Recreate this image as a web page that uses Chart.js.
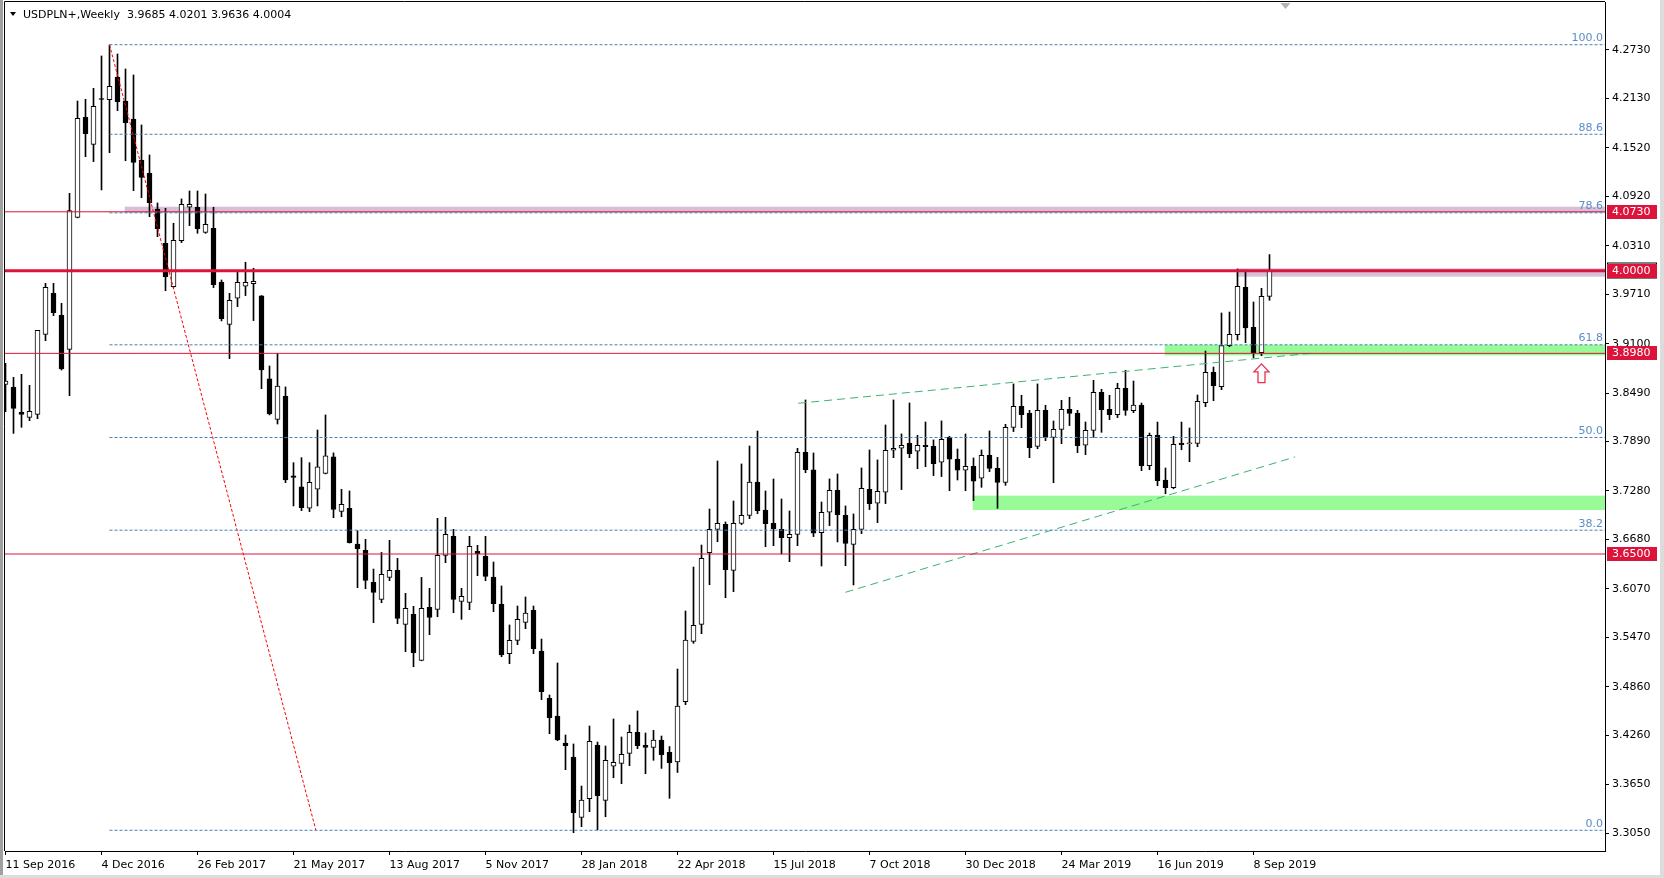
<!DOCTYPE html>
<html>
<head>
<meta charset="utf-8">
<title>USDPLN+, Weekly</title>
<script src="https://cdn.jsdelivr.net/npm/chart.js@4.4.1/dist/chart.umd.min.js"></script>
<style>
  html, body { margin: 0; padding: 0; background: #fff; }
  #wrap { width: 1664px; height: 878px; }
</style>
</head>
<body>
<div id="wrap"><canvas id="chart" width="1664" height="878"></canvas></div>
<script>
// weekly candles from 11 Sep 2016 (index 0) to 22 Sep 2019 (index 158)
const opens = [
  3.8597, 3.8560, 3.8251, 3.8189, 3.8226, 3.9215, 3.9722, 3.9450, 3.9030, 4.0661,
  4.1897, 4.1564, 4.2122, 4.2116, 4.2396, 4.2099, 4.1877, 4.1370, 4.1205, 4.0764,
  4.0340, 3.9805, 4.0374, 4.0786, 4.0786, 4.0476, 4.0526, 3.9858, 3.9339, 3.9661,
  3.9809, 3.9842, 3.9690, 3.8664, 3.8165, 3.8453, 3.7465, 3.7329, 3.7065, 3.7300,
  3.7497, 3.7700, 3.7027, 3.7064, 3.6624, 3.6545, 3.6150, 3.5940, 3.6211, 3.6298,
  3.5631, 3.5754, 3.5185, 3.5841, 3.5816, 3.6483, 3.6718, 3.5915, 3.5902, 3.6533,
  3.6471, 3.6216, 3.5882, 3.5268, 3.5433, 3.5655, 3.5804, 3.5301, 3.4716, 3.4498,
  3.4164, 3.3991, 3.3245, 3.3476, 3.4139, 3.3455, 3.3876, 3.3913, 3.4036, 3.4296,
  3.4135, 3.4110, 3.4200, 3.4050, 3.3930, 3.4675, 3.5420, 3.5631, 3.6517, 3.6805,
  3.6867, 3.6298, 3.6879, 3.6978, 3.7390, 3.7044, 3.6879, 3.6805, 3.6702, 3.6743,
  3.7757, 3.7539, 3.6764, 3.7016, 3.7288, 3.6979, 3.6620, 3.6805, 3.7300, 3.7127,
  3.7263, 3.7782, 3.7807, 3.7869, 3.7770, 3.7844, 3.7831, 3.7634, 3.7943, 3.7671,
  3.7535, 3.7584, 3.7436, 3.7720, 3.7559, 3.7386, 3.8066, 3.8326, 3.8243, 3.7831,
  3.8276, 3.7942, 3.8041, 3.8289, 3.8243, 3.7844, 3.8029, 3.8499, 3.8289, 3.8223,
  3.8548, 3.8271, 3.8341, 3.7592, 3.7966, 3.7414, 3.7320, 3.7872, 3.7863, 3.7868,
  3.8370, 3.8745, 3.8568, 3.9075, 3.9211, 3.9796, 3.9301, 3.8988, 3.9685
];
const highs = [
  3.8857, 3.8684, 3.8721, 3.8585, 3.9265, 3.9846, 3.9846, 3.9598, 4.0958, 4.2099,
  4.2120, 4.2256, 4.2656, 4.2790, 4.2680, 4.2495, 4.2421, 4.1803, 4.1432, 4.0839,
  4.0773, 4.0588, 4.0889, 4.0987, 4.0987, 4.0950, 4.0786, 3.9887, 3.9722, 3.9990,
  4.0106, 4.0032, 3.9695, 3.8824, 3.8981, 3.8565, 3.7629, 3.7691, 3.7629, 3.8033,
  3.8219, 3.7750, 3.7300, 3.7279, 3.6788, 3.6681, 3.6314, 3.6520, 3.6669, 3.6446,
  3.6014, 3.5853, 3.6211, 3.6076, 3.6941, 3.6953, 3.6805, 3.6076, 3.6718, 3.6607,
  3.6718, 3.6401, 3.6105, 3.5623, 3.5857, 3.5969, 3.5857, 3.5449, 3.4757, 3.5153,
  3.4263, 3.4152, 3.3632, 3.4374, 3.4176, 3.4127, 3.4461, 3.4238, 3.4386, 3.4560,
  3.4288, 3.4320, 3.4250, 3.4120, 3.5078, 3.5795, 3.6339, 3.6611, 3.7056, 3.7650,
  3.6896, 3.7155, 3.7613, 3.7835, 3.8020, 3.7279, 3.7427, 3.7180, 3.7032, 3.7806,
  3.8404, 3.7749, 3.7143, 3.7428, 3.7489, 3.7094, 3.6995, 3.7564, 3.7786, 3.7663,
  3.8095, 3.8404, 3.7984, 3.8367, 3.7967, 3.8132, 3.7910, 3.8145, 3.7955, 3.7798,
  3.7984, 3.7687, 3.7786, 3.8021, 3.7695, 3.8103, 3.8602, 3.8462, 3.8276, 3.8602,
  3.8338, 3.8144, 3.8400, 3.8437, 3.8276, 3.8132, 3.8647, 3.8536, 3.8462, 3.8610,
  3.8771, 3.8638, 3.8366, 3.7995, 3.8131, 3.7563, 3.7954, 3.8131, 3.8057, 3.8465,
  3.9009, 3.8811, 3.9479, 3.9491, 4.0023, 4.0010, 3.9615, 3.9784, 4.0201
];
const lows = [
  3.8259, 3.7991, 3.8066, 3.8148, 3.8173, 3.9137, 3.9446, 3.8774, 3.8457, 4.0655,
  4.1411, 4.1350, 4.1000, 4.1461, 4.1980, 4.1362, 4.0991, 4.0905, 4.0670, 4.0422,
  3.9755, 3.9797, 4.0349, 4.0559, 4.0464, 4.0464, 3.9793, 3.9381, 3.8915, 3.9558,
  3.9694, 3.9385, 3.8544, 3.8219, 3.8107, 3.7382, 3.7094, 3.7036, 3.7024, 3.7094,
  3.7490, 3.6949, 3.6961, 3.6635, 3.6084, 3.6071, 3.5651, 3.5898, 3.6170, 3.5639,
  3.5293, 3.5107, 3.5180, 3.5503, 3.5725, 3.6393, 3.5775, 3.5692, 3.5812, 3.6232,
  3.6170, 3.5787, 3.5231, 3.5145, 3.5379, 3.5577, 3.5268, 3.4700, 3.4279, 3.4193,
  3.3834, 3.3056, 3.3130, 3.3315, 3.3089, 3.3253, 3.3735, 3.3661, 3.3884, 3.4094,
  3.3785, 3.3950, 3.3850, 3.3480, 3.3800, 3.4638, 3.5396, 3.5515, 3.6121, 3.6652,
  3.5960, 3.6034, 3.6863, 3.6937, 3.6999, 3.6591, 3.6603, 3.6500, 3.6405, 3.6603,
  3.7505, 3.6715, 3.6352, 3.6851, 3.6649, 3.6356, 3.6117, 3.6752, 3.7049, 3.6888,
  3.7123, 3.7691, 3.7296, 3.7691, 3.7555, 3.7580, 3.7469, 3.7457, 3.7283, 3.7415,
  3.7283, 3.7160, 3.7324, 3.7518, 3.7065, 3.7349, 3.8013, 3.8062, 3.7691, 3.7802,
  3.7901, 3.7382, 3.7864, 3.8087, 3.7753, 3.7728, 3.7942, 3.8004, 3.8161, 3.8186,
  3.8214, 3.8247, 3.7530, 3.7542, 3.7344, 3.7245, 3.7307, 3.7789, 3.7641, 3.7826,
  3.8321, 3.8395, 3.8531, 3.9062, 3.9145, 3.9112, 3.8927, 3.8951, 3.9636
];
const closes = [
  3.8638, 3.8300, 3.8226, 3.8264, 3.9265, 3.9796, 3.9483, 3.8787, 4.0744, 4.1885,
  4.1696, 4.2033, 4.2118, 4.2281, 4.2091, 4.1832, 4.1341, 4.1156, 4.0843, 4.0521,
  3.9928, 4.0378, 4.0823, 4.0823, 4.0522, 4.0575, 3.9830, 3.9409, 3.9636, 3.9858,
  3.9858, 3.9871, 3.8775, 3.8231, 3.8577, 3.7415, 3.7448, 3.7073, 3.7386, 3.7576,
  3.7712, 3.7052, 3.7114, 3.6640, 3.6566, 3.6174, 3.6026, 3.6249, 3.6298, 3.5705,
  3.5828, 3.5280, 3.5828, 3.5717, 3.6483, 3.6743, 3.5940, 3.5977, 3.6595, 3.6504,
  3.6224, 3.5886, 3.5252, 3.5433, 3.5693, 3.5771, 3.5330, 3.4799, 3.4477, 3.4201,
  3.4131, 3.3303, 3.3459, 3.4185, 3.3513, 3.3950, 3.3925, 3.4024, 3.4296, 3.4131,
  3.4110, 3.4200, 3.4020, 3.3920, 3.4620, 3.5437, 3.5618, 3.6446, 3.6805, 3.6879,
  3.6306, 3.6879, 3.6978, 3.7390, 3.7036, 3.6875, 3.6813, 3.6702, 3.6743, 3.7757,
  3.7542, 3.6756, 3.7016, 3.7288, 3.6987, 3.6632, 3.6805, 3.7312, 3.7123, 3.7275,
  3.7782, 3.7807, 3.7844, 3.7741, 3.7844, 3.7827, 3.7617, 3.7918, 3.7671, 3.7535,
  3.7584, 3.7399, 3.7720, 3.7559, 3.7386, 3.8066, 3.8326, 3.8223, 3.7815, 3.8276,
  3.7942, 3.8041, 3.8289, 3.8239, 3.7839, 3.8029, 3.8499, 3.8284, 3.8223, 3.8548,
  3.8276, 3.8341, 3.7592, 3.7966, 3.7406, 3.7320, 3.7855, 3.7851, 3.7868, 3.8387,
  3.8745, 3.8580, 3.9075, 3.9215, 3.9808, 3.9293, 3.8988, 3.9685, 4.0004
];

const xTicks = [0, 12, 24, 36, 48, 60, 72, 84, 96, 108, 120, 132, 144, 156];
const dateLabels = ['11 Sep 2016', '4 Dec 2016', '26 Feb 2017', '21 May 2017', '13 Aug 2017',
  '5 Nov 2017', '28 Jan 2018', '22 Apr 2018', '15 Jul 2018', '7 Oct 2018', '30 Dec 2018',
  '24 Mar 2019', '16 Jun 2019', '8 Sep 2019'];
const priceTicks = [4.2730, 4.2130, 4.1520, 4.0920, 4.0310, 3.9710, 3.9100, 3.8490, 3.7890,
  3.7280, 3.6680, 3.6070, 3.5470, 3.4860, 3.4260, 3.3650, 3.3050];

// horizontal levels (red) and the key level drawn thicker
const redLevels = [4.0730, 4.0000, 3.8980, 3.6500];
const keyLevel = 4.0000;
const bidPrice = 4.0004;

// fibonacci retracement from the Dec 2016 high to the Feb 2018 low
const fibLevels = [0, 38.2, 50, 61.8, 78.6, 88.6, 100];
const fibHigh = 4.2795, fibLow = 3.3085;
const fibStart = 13, fibEnd = 38.8;

// trend lines (bar index / price)
const upperTrendX = [99.1, 163.5], upperTrendY = [3.8363, 3.8984];
const lowerTrendX = [105.0, 161.2], lowerTrendY = [3.6027, 3.7700];

// zones: start bar, low, high (they run to the right edge)
const zoneFrom = [14.9, 153.9, 144.9, 120.9];
const zoneLow = [4.0719, 3.9928, 3.8955, 3.7044];
const zoneHigh = [4.0793, 4.0031, 3.9085, 3.7221];
const zoneColors = ['#d8bfd8', '#d8bfd8', '#98fb98', '#98fb98'];

const arrowBar = 157, arrowTop = 3.8850, arrowBottom = 3.8618;
const shiftBar = 160;

const X_MIN = -0.0625, X_MAX = 199.9375;
const Y_MIN = 3.2829, Y_MAX = 4.3323;
const CRIMSON = '#dc143c';
const FIB_BLUE = '#4682b4';

Chart.defaults.font.family = '"DejaVu Sans", Tahoma, sans-serif';
Chart.defaults.font.size = 11;
Chart.defaults.color = '#000';

const idx = opens.map((_, i) => i);
const wickData = idx.map(i => ({ x: i, y: [lows[i], highs[i]] }));
const bodyData = idx.map(i => ({ x: i, y: [opens[i], closes[i]] }));
const bodyFill = idx.map(i => closes[i] >= opens[i] ? '#ffffff' : '#000000');

function segment(x1, y1, x2, y2, color, width, dash) {
    return {
        type: 'line',
        data: [{ x: x1, y: y1 }, { x: x2, y: y2 }],
        borderColor: color,
        borderWidth: width,
        borderDash: dash || [],
        pointRadius: 0,
        fill: false,
        order: 0
    };
}

const fibPrice = l => fibLow + (fibHigh - fibLow) * l / 100;

const lineSets = [];
fibLevels.forEach(l => lineSets.push(segment(fibStart, fibPrice(l), X_MAX, fibPrice(l), FIB_BLUE, 1, [3, 2])));
redLevels.forEach(v => lineSets.push(segment(X_MIN, v, X_MAX, v, CRIMSON, v === keyLevel ? 3 : 1)));
lineSets.push(segment(fibStart, fibHigh, fibEnd, fibLow, '#ff0000', 1, [3, 2]));
lineSets.push(segment(upperTrendX[0], upperTrendY[0], upperTrendX[1], upperTrendY[1], '#3cb371', 1, [8, 5]));
lineSets.push(segment(lowerTrendX[0], lowerTrendY[0], lowerTrendX[1], lowerTrendY[1], '#3cb371', 1, [8, 5]));

const decor = {
    id: 'decor',
    beforeDraw(chart) {
        const { ctx, width, height } = chart;
        ctx.save();
        ctx.fillStyle = '#ffffff';
        ctx.fillRect(0, 0, width, height);
        ctx.fillStyle = '#a0a0a0';
        ctx.fillRect(0, 0, 3, height);
        ctx.fillStyle = '#dcdcdc';
        ctx.fillRect(width - 4, 0, 4, height);
        ctx.fillRect(0, height - 3, width, 3);
        ctx.restore();
    },
    beforeDatasetsDraw(chart) {
        const { ctx, chartArea: a, scales: { x, y } } = chart;
        ctx.save();
        ctx.beginPath();
        ctx.rect(a.left, a.top, a.right - a.left, a.bottom - a.top);
        ctx.clip();
        zoneFrom.forEach((f, i) => {
            const left = x.getPixelForValue(f);
            const top = y.getPixelForValue(zoneHigh[i]);
            const bottom = y.getPixelForValue(zoneLow[i]);
            ctx.fillStyle = zoneColors[i];
            ctx.fillRect(left, top, a.right - left, bottom - top);
        });
        ctx.restore();
    },
    afterDatasetsDraw(chart) {
        const { ctx, chartArea: a, scales: { x, y } } = chart;
        ctx.save();
        // fib labels
        ctx.font = '11px "DejaVu Sans", Tahoma, sans-serif';
        ctx.fillStyle = '#5b8cc8';
        ctx.textAlign = 'right';
        ctx.textBaseline = 'bottom';
        fibLevels.forEach(l => {
            ctx.fillText(l.toFixed(1), a.right - 2, y.getPixelForValue(fibPrice(l)) - 1);
        });
        // hollow up arrow
        const cx = x.getPixelForValue(arrowBar);
        const top = y.getPixelForValue(arrowTop);
        const bottom = y.getPixelForValue(arrowBottom);
        ctx.beginPath();
        ctx.moveTo(cx, top);
        ctx.lineTo(cx + 7.5, top + 8);
        ctx.lineTo(cx + 3.5, top + 8);
        ctx.lineTo(cx + 3.5, bottom);
        ctx.lineTo(cx - 3.5, bottom);
        ctx.lineTo(cx - 3.5, top + 8);
        ctx.lineTo(cx - 7.5, top + 8);
        ctx.closePath();
        ctx.fillStyle = '#ffffff';
        ctx.fill();
        ctx.strokeStyle = '#e8304a';
        ctx.lineWidth = 1.3;
        ctx.stroke();
        // chart shift marker
        const sx = x.getPixelForValue(shiftBar);
        ctx.beginPath();
        ctx.moveTo(sx - 5, a.top + 1);
        ctx.lineTo(sx + 5, a.top + 1);
        ctx.lineTo(sx, a.top + 7);
        ctx.closePath();
        ctx.fillStyle = '#b4b4b4';
        ctx.fill();
        ctx.restore();
    },
    afterDraw(chart) {
        const { ctx, chartArea: a, scales: { y } } = chart;
        ctx.save();
        ctx.strokeStyle = '#000';
        ctx.lineWidth = 1;
        ctx.beginPath();
        ctx.moveTo(a.left - 0.5, a.bottom);
        ctx.lineTo(a.left - 0.5, a.top - 0.5);
        ctx.lineTo(a.right, a.top - 0.5);
        ctx.stroke();

        // header
        ctx.fillStyle = '#000';
        ctx.beginPath();
        ctx.moveTo(10, 12);
        ctx.lineTo(16, 12);
        ctx.lineTo(13, 16);
        ctx.closePath();
        ctx.fill();
        ctx.font = '11px "DejaVu Sans", Tahoma, sans-serif';
        ctx.textAlign = 'left';
        ctx.textBaseline = 'middle';
        ctx.fillText('USDPLN+,Weekly  ' + opens[opens.length - 1].toFixed(4) + ' ' +
            highs[highs.length - 1].toFixed(4) + ' ' + lows[lows.length - 1].toFixed(4) + ' ' +
            closes[closes.length - 1].toFixed(4), 23, 15);

        // price labels on the axis
        const yb = y.getPixelForValue(bidPrice);
        ctx.fillStyle = '#fff';
        ctx.fillRect(a.right + 2, yb - 8, 50, 15);
        ctx.strokeRect(a.right + 2.5, yb - 7.5, 49, 15);
        redLevels.forEach(v => {
            const yy = Math.round(y.getPixelForValue(v));
            ctx.fillStyle = CRIMSON;
            ctx.fillRect(a.right + 2, yy - 7, 50, 14);
            ctx.fillStyle = '#fff';
            ctx.fillText(v.toFixed(4), a.right + 7, yy);
        });
        ctx.restore();
    }
};

new Chart(document.getElementById('chart'), {
    type: 'bar',
    data: {
        datasets: [
            ...lineSets,
            {
                data: bodyData,
                backgroundColor: bodyFill,
                borderColor: '#000',
                borderWidth: 1,
                borderSkipped: false,
                barThickness: 5,
                minBarLength: 1,
                grouped: false,
                order: 1
            },
            {
                data: wickData,
                backgroundColor: '#000',
                borderWidth: 0,
                barThickness: 1,
                grouped: false,
                order: 2
            }
        ]
    },
    options: {
        responsive: false,
        animation: false,
        layout: { padding: { left: 5, top: 2, right: 0, bottom: 0 } },
        plugins: { legend: { display: false }, tooltip: { enabled: false } },
        scales: {
            x: {
                type: 'linear',
                min: X_MIN,
                max: X_MAX,
                offset: false,
                afterBuildTicks: s => { s.ticks = xTicks.map(v => ({ value: v })); },
                afterFit: s => { s.height = 27; s.paddingLeft = 0; s.paddingRight = 0; },
                ticks: {
                    autoSkip: false,
                    maxRotation: 0,
                    align: 'start',
                    padding: 4,
                    color: '#000',
                    callback: v => dateLabels[xTicks.indexOf(v)]
                },
                grid: { offset: false, drawOnChartArea: false, tickLength: 4, color: '#000' },
                border: { display: true, color: '#000' }
            },
            y: {
                position: 'right',
                min: Y_MIN,
                max: Y_MAX,
                afterBuildTicks: s => { s.ticks = priceTicks.map(v => ({ value: v })); },
                afterFit: s => { s.width = 59; s.paddingTop = 0; s.paddingBottom = 0; },
                ticks: { autoSkip: false, padding: 3, color: '#000', callback: v => v.toFixed(4) },
                grid: { drawOnChartArea: false, tickLength: 4, color: '#000' },
                border: { display: true, color: '#000' }
            }
        }
    },
    plugins: [decor]
});
</script>
</body>
</html>
